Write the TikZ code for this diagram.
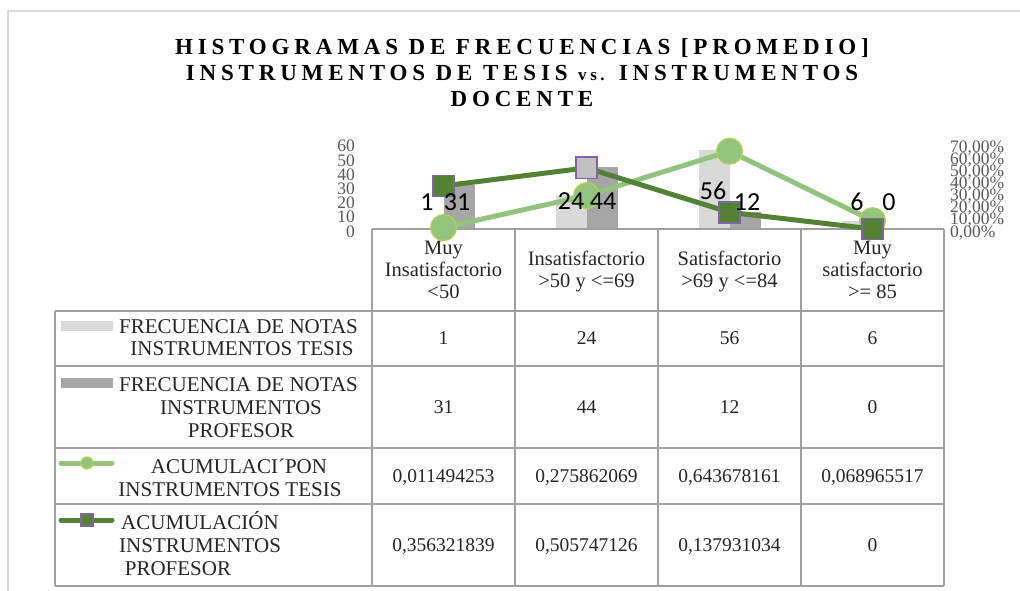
\documentclass[tikz,border=0pt]{standalone}
\usepackage{fontspec}
\setmainfont{Liberation Serif}
\newfontfamily\titlefont[LetterSpace=21]{Liberation Serif}
\newfontfamily\lblfont{Carlito}
\definecolor{framegray}{HTML}{D9D9D9}
\definecolor{tablegray}{HTML}{A0A0A0}
\definecolor{axisgray}{HTML}{595959}
\definecolor{txt}{HTML}{262626}
\definecolor{barlight}{HTML}{D9D9D9}
\definecolor{bardark}{HTML}{A6A6A6}
\definecolor{lgreen}{HTML}{93C47D}
\definecolor{lgborder}{HTML}{B3D44E}
\definecolor{dgreen}{HTML}{548235}
\definecolor{mpurple}{HTML}{8064A2}
\definecolor{sqgray}{HTML}{C0C0C0}
\begin{document}
\begin{tikzpicture}[x=1pt,y=-1pt,
  titlestyle/.style={anchor=base,inner sep=0pt,font=\titlefont\bfseries\fontsize{23}{25}\selectfont,text=black},
  axl/.style={inner sep=0pt,font=\fontsize{17.5}{18}\selectfont,text=axisgray},
  hdr/.style={anchor=base,inner sep=0pt,font=\fontsize{20.5}{22}\selectfont,text=txt},
  dat/.style={anchor=base,inner sep=0pt,font=\fontsize{19.5}{22}\selectfont,text=txt},
  leg/.style={anchor=base,inner sep=0pt,font=\fontsize{21}{22}\selectfont,text=txt},
  dlab/.style={anchor=base,inner sep=0pt,font=\lblfont\fontsize{26}{26}\selectfont,text=black},
  tline/.style={draw=tablegray,line width=2pt},
  barT/.style={fill=barlight,draw=none},
  barP/.style={fill=bardark,draw=none},
  lgline/.style={draw=lgreen,line width=5pt,line join=round,line cap=round},
  dgline/.style={draw=dgreen,line width=5pt,line join=round,line cap=round},
  circmark/.style={circle,fill=lgreen,draw=lgborder,line width=1.2pt,minimum size=26pt,inner sep=0pt},
  sqmark/.style={rectangle,fill=dgreen,draw=mpurple,line width=1.8pt,minimum size=21pt,inner sep=0pt},
]
\useasboundingbox (0,0) rectangle (1020,591);
% outer frame
\draw[framegray,line width=1.5pt] (8,591) -- (8,11) -- (1020,11);

% title
\node[titlestyle] (t1) at (522,55) {HISTOGRAMAS DE FRECUENCIAS [PROMEDIO]};
\node[titlestyle] (t2) at (522,81) {INSTRUMENTOS DE TESIS {\fontsize{17}{17}\selectfont vs.} INSTRUMENTOS};
\node[titlestyle] (t3) at (522,107) {DOCENTE};

% primary axis labels
\foreach \v/\i in {0/0,10/1,20/2,30/3,40/4,50/5,60/6}
  \node[axl,anchor=base east] (pa\i) at (355,{237-\i*14.17}) {\v};
% secondary axis labels
\foreach \v/\i in {0/0,10/1,20/2,30/3,40/4,50/5,60/6,70/7}
  \node[axl,anchor=base west] (sa\i) at (950,{237-\i*12.14}) {\v,00\%};

% bars
\foreach \c/\t/\p in {443.5/1/31,586.5/24/44,729.5/56/12,872.5/6/0}{
  \path[barT] (\c-31,229) rectangle (\c,{229-\t*1.41});
  \path[barP] (\c,229) rectangle (\c+31,{229-\p*1.41});
}

% table
\draw[tline] (372,229) -- (944,229);
\draw[tline] (55,311) -- (944,311);
\draw[tline] (55,366) -- (944,366);
\draw[tline] (55,448) -- (944,448);
\draw[tline] (55,504) -- (944,504);
\draw[tline] (55,586) -- (944,586);
\draw[tline] (55,311) -- (55,586);
\foreach \x in {372,515,658,801,944}
  \draw[tline] (\x,229) -- (\x,586);

% header texts
\node[hdr] (h1a) at (443.5,254) {Muy};
\node[hdr] (h1b) at (443.5,276) {Insatisfactorio};
\node[hdr] (h1c) at (443.5,298) {<50};
\node[hdr] (h2a) at (586.5,265) {Insatisfactorio};
\node[hdr] (h2b) at (586.5,287) {>50 y <=69};
\node[hdr] (h3a) at (729.5,265) {Satisfactorio};
\node[hdr] (h3b) at (729.5,287) {>69 y <=84};
\node[hdr] (h4a) at (872.5,254) {Muy};
\node[hdr] (h4b) at (872.5,276) {satisfactorio};
\node[hdr] (h4c) at (872.5,298) {>= 85};

% data
\node[dat] (d11) at (443.5,344) {1};
\node[dat] (d12) at (586.5,344) {24};
\node[dat] (d13) at (729.5,344) {56};
\node[dat] (d14) at (872.5,344) {6};
\node[dat] (d21) at (443.5,413) {31};
\node[dat] (d22) at (586.5,413) {44};
\node[dat] (d23) at (729.5,413) {12};
\node[dat] (d24) at (872.5,413) {0};
\node[dat] (d31) at (443.5,482) {0,011494253};
\node[dat] (d32) at (586.5,482) {0,275862069};
\node[dat] (d33) at (729.5,482) {0,643678161};
\node[dat] (d34) at (872.5,482) {0,068965517};
\node[dat] (d41) at (443.5,551) {0,356321839};
\node[dat] (d42) at (586.5,551) {0,505747126};
\node[dat] (d43) at (729.5,551) {0,137931034};
\node[dat] (d44) at (872.5,551) {0};

% legend column
\path[barT] (61,321) rectangle (113,331);
\node[leg,anchor=base west] (l1a) at (119,333) {FRECUENCIA DE NOTAS};
\node[leg] (l1b) at (242,355) {INSTRUMENTOS TESIS};
\path[barP] (61,378) rectangle (113,388);
\node[leg,anchor=base west] (l2a) at (119,391) {FRECUENCIA DE NOTAS};
\node[leg] (l2b) at (241,414) {INSTRUMENTOS};
\node[leg] (l2c) at (241,437) {PROFESOR};
\coordinate (k3a) at (61,463);
\coordinate (k3b) at (112,463);
\draw[lgline] (k3a) -- (k3b);
\node[circmark,minimum size=12pt] (k3m) at (87,463) {};
\node[leg] (l3a) at (239,473) {ACUMULACI´PON};
\node[leg] (l3b) at (230,496) {INSTRUMENTOS TESIS};
\coordinate (k4a) at (61,520);
\coordinate (k4b) at (112,520);
\draw[dgline] (k4a) -- (k4b);
\node[sqmark,minimum size=12pt,line width=1.2pt] (k4m) at (87,520) {};
\node[leg,anchor=base west] (l4a) at (121,529) {ACUMULACIÓN};
\node[leg,anchor=base west] (l4b) at (119,552) {INSTRUMENTOS};
\node[leg] (l4c) at (178,575) {PROFESOR};

% light green series
\coordinate (a1) at (443.5,227.6);
\coordinate (a2) at (586.5,195.7);
\coordinate (a3) at (729.5,151.2);
\coordinate (a4) at (872.5,220.7);
\draw[lgline] (a1) -- (a2) -- (a3) -- (a4);
\foreach \i in {1,2,3,4} \node[circmark] (ma\i) at (a\i) {};

% dark green series
\coordinate (b1) at (443.5,185.9);
\coordinate (b2) at (586.5,167.9);
\coordinate (b3) at (729.5,212.3);
\coordinate (b4) at (872.5,229);
\draw[dgline] (b1) -- (b2) -- (b3) -- (b4);
\node[sqmark] (mb1) at (b1) {};
\node[sqmark,fill=sqgray] (mb2) at (b2) {};
\node[sqmark] (mb3) at (b3) {};
\node[sqmark] (mb4) at (b4) {};

% data labels
\node[dlab] (v1) at (427,210) {1};
\node[dlab] (v2) at (457,210) {31};
\node[dlab] (v3) at (571,209) {24};
\node[dlab] (v4) at (603,209) {44};
\node[dlab] (v5) at (713,199) {56};
\node[dlab] (v6) at (747,210) {12};
\node[dlab] (v7) at (857,210) {6};
\node[dlab] (v8) at (889,210) {0};
\end{tikzpicture}
\end{document}
